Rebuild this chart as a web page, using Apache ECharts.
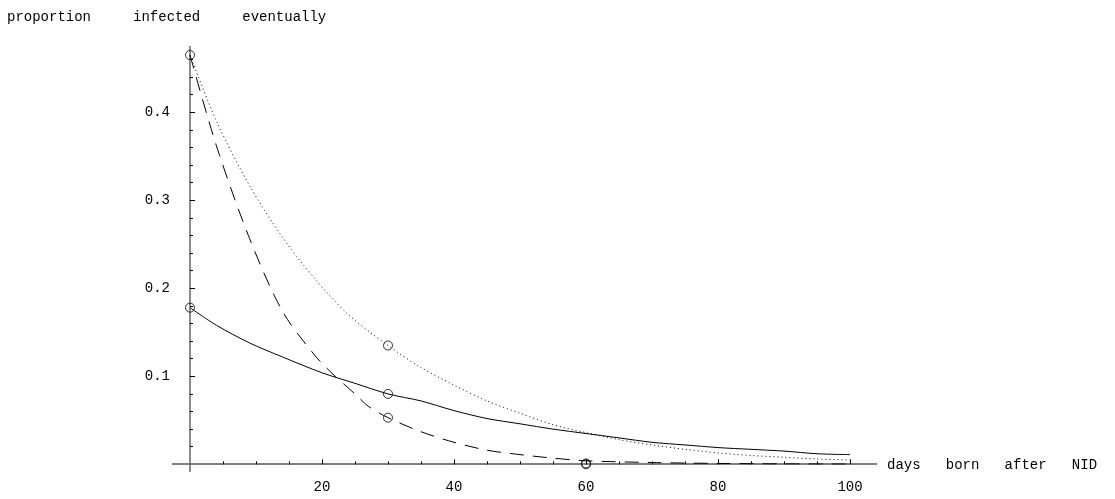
<!DOCTYPE html>
<html><head><meta charset="utf-8">
<script src="https://cdn.jsdelivr.net/npm/echarts@6/dist/echarts.min.js"></script>
<style>body{margin:0;background:#fff}#c{width:1115px;height:499px}</style>
</head><body><div id="c"></div>
<script>
// 读图估计的数据
const solidData = [[0,0.178],[4,0.158],[9,0.138],[14,0.122],[20,0.104],[25,0.092],[30,0.080],[35,0.072],[40,0.061],[45,0.052],[50,0.046],[55,0.040],[60,0.035],[65,0.030],[70,0.025],[75,0.022],[80,0.019],[85,0.017],[90,0.015],[95,0.012],[100,0.011]]
const dottedData = [[0,0.465],[4,0.390],[9,0.317],[14,0.258],[19,0.210],[24,0.170],[30,0.135],[35,0.110],[40,0.090],[45,0.072],[50,0.058],[55,0.045],[60,0.036],[65,0.028],[70,0.022],[75,0.017],[80,0.013],[85,0.010],[90,0.008],[95,0.006],[100,0.005]]
const dashedData = [[0,0.465],[4,0.362],[9,0.257],[14,0.174],[19,0.123],[22,0.100],[25,0.080],[27,0.066],[30,0.053],[35,0.037],[40,0.025],[45,0.016],[50,0.011],[55,0.007],[60,0.004],[70,0.002],[80,0.001],[90,0.0005],[100,0.0003]]
const markerData = [[0,0.465],[0,0.178],[30,0.135],[30,0.080],[30,0.053],[60,0],[60,0.001]]
const xTicks = [20, 40, 60, 80, 100]
const yTicks = [0.1, 0.2, 0.3, 0.4]

const font = 'Liberation Mono'
const chart = echarts.init(document.getElementById('c'))
const line = (data, type) => ({
  type: 'line', data, showSymbol: false, smooth: 0.3, silent: true,
  lineStyle: { color: '#000', width: 1, type }
})
chart.setOption({
  animation: false,
  graphic: [
    { type: 'text', left: 7, top: 10, style: { text: 'proportion     infected     eventually', font: '14px ' + font, fill: '#000' } },
    { type: 'text', left: 887, top: 458, style: { text: 'days   born   after   NID', font: '14px ' + font, fill: '#000' } },
    { type: 'line', shape: { x1: 172, y1: 464, x2: 877, y2: 464 }, style: { stroke: '#000', lineWidth: 1 } },
    { type: 'line', shape: { x1: 190, y1: 46, x2: 190, y2: 472 }, style: { stroke: '#666', lineWidth: 1.5 } }
  ],
  grid: { left: 190, top: 46, width: 686.4, height: 418.3 },
  xAxis: {
    type: 'value', min: 0, max: 104, interval: 20,
    axisLine: { show: false },
    axisTick: { show: true, inside: true, length: 5, lineStyle: { color: '#000' },
      customValues: xTicks },
    minorTick: { show: true, splitNumber: 4, length: 3, lineStyle: { color: '#000' } },
    axisLabel: { customValues: xTicks, color: '#000', fontFamily: font, fontSize: 14, margin: 16 },
    splitLine: { show: false }
  },
  yAxis: {
    type: 'value', min: 0, max: 0.4753, interval: 0.1,
    axisLine: { show: false },
    axisTick: { show: true, inside: true, length: 5, lineStyle: { color: '#000' }, customValues: yTicks },
    minorTick: { show: true, splitNumber: 5, length: 3, lineStyle: { color: '#000' } },
    axisLabel: { customValues: yTicks, color: '#000', fontFamily: font, fontSize: 14, margin: 20,
      formatter: v => v.toFixed(1) },
    splitLine: { show: false }
  },
  series: [
    line(solidData, 'solid'),
    line(dottedData, [1, 3]),
    line(dashedData, [14, 9]),
    { type: 'scatter', data: markerData, symbol: 'circle', symbolSize: 9, silent: true,
      itemStyle: { color: 'rgba(0,0,0,0)', borderColor: '#000', borderWidth: 1 } }
  ]
})
</script></body></html>
